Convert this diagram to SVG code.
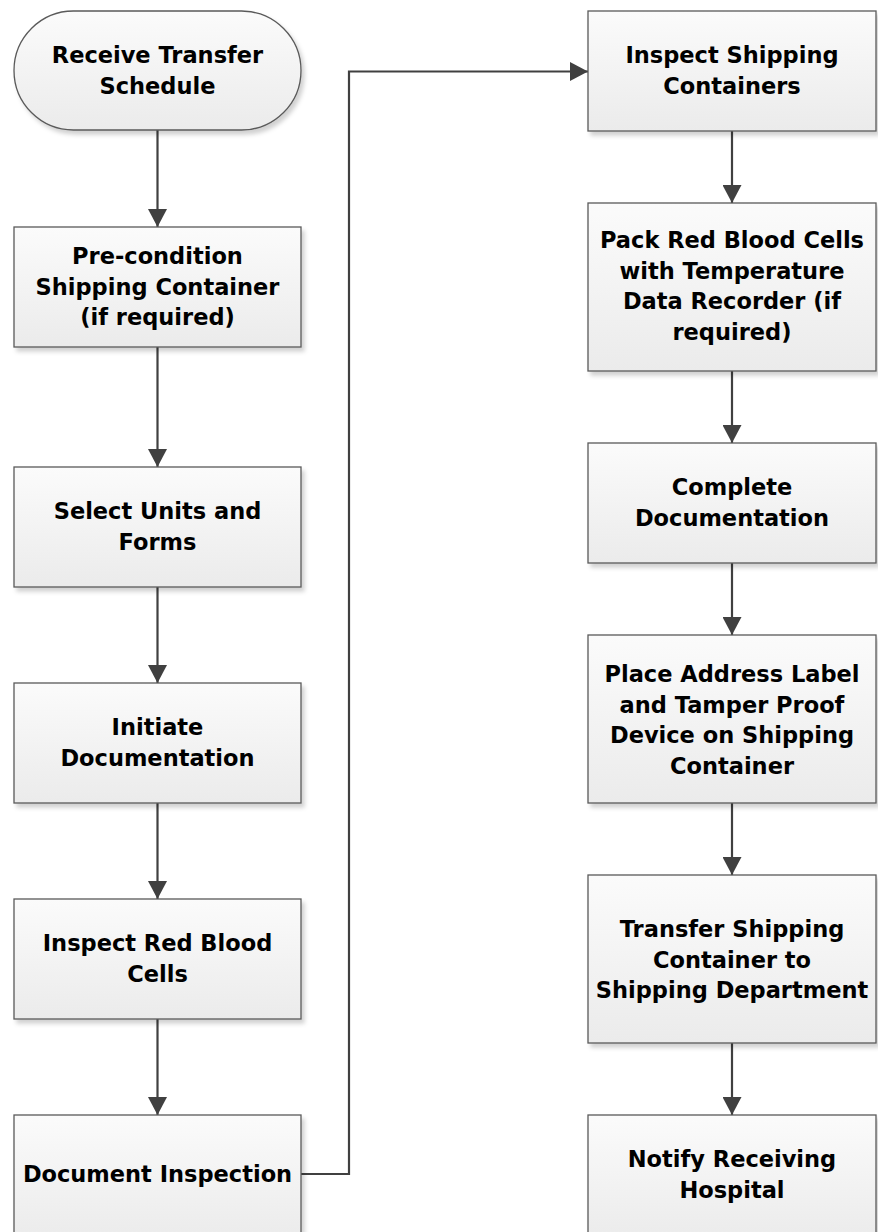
<svg xmlns="http://www.w3.org/2000/svg" width="878" height="1232" viewBox="0 0 878 1232">
<style>
.box{fill:url(#g);stroke:#5a5a5a;stroke-width:1.3;filter:url(#sh)}
.t{font-family:"DejaVu Sans",Verdana,sans-serif;font-weight:bold;font-size:22.5px;fill:#000;text-anchor:middle}
.c{fill:none;stroke:#404040;stroke-width:2.2;marker-end:url(#ah)}
</style>
<defs>
<linearGradient id="g" x1="0" y1="0" x2="0" y2="1">
<stop offset="0" stop-color="#fbfbfb"/>
<stop offset="1" stop-color="#ebebeb"/>
</linearGradient>
<filter id="sh" x="-5%" y="-5%" width="115%" height="120%">
<feDropShadow dx="3" dy="4" stdDeviation="2" flood-color="#000" flood-opacity="0.18"/>
</filter>
<marker id="ah" markerUnits="userSpaceOnUse" viewBox="0 0 18 19" refX="18" refY="9.5" markerWidth="18" markerHeight="19" orient="auto">
<path d="M0,0 L18,9.5 L0,19 z" fill="#404040"/>
</marker>
</defs>
<g id="connectors">
<line class="c" x1="157.5" y1="130" x2="157.5" y2="227"/>
<line class="c" x1="157.5" y1="347" x2="157.5" y2="467"/>
<line class="c" x1="157.5" y1="587" x2="157.5" y2="683"/>
<line class="c" x1="157.5" y1="803" x2="157.5" y2="899"/>
<line class="c" x1="157.5" y1="1019" x2="157.5" y2="1115"/>
<polyline class="c" points="301,1174 349,1174 349,71.5 588,71.5"/>
<line class="c" x1="732" y1="131" x2="732" y2="203"/>
<line class="c" x1="732" y1="371" x2="732" y2="443"/>
<line class="c" x1="732" y1="563" x2="732" y2="635"/>
<line class="c" x1="732" y1="803" x2="732" y2="875"/>
<line class="c" x1="732" y1="1043" x2="732" y2="1115"/>
</g>
<g id="n1"><rect class="box" x="14" y="11" width="287" height="119" rx="59.5"/>
<text class="t" x="157.5" y="63">Receive Transfer</text><text class="t" x="157.5" y="93.5">Schedule</text></g>
<g id="n2"><rect class="box" x="14" y="227" width="287" height="120"/>
<text class="t" x="157.5" y="264">Pre-condition</text><text class="t" x="157.5" y="294.5">Shipping Container</text><text class="t" x="157.5" y="325">(if required)</text></g>
<g id="n3"><rect class="box" x="14" y="467" width="287" height="120"/>
<text class="t" x="157.5" y="519">Select Units and</text><text class="t" x="157.5" y="549.5">Forms</text></g>
<g id="n4"><rect class="box" x="14" y="683" width="287" height="120"/>
<text class="t" x="157.5" y="735">Initiate</text><text class="t" x="157.5" y="765.5">Documentation</text></g>
<g id="n5"><rect class="box" x="14" y="899" width="287" height="120"/>
<text class="t" x="157.5" y="951">Inspect Red Blood</text><text class="t" x="157.5" y="981.5">Cells</text></g>
<g id="n6"><rect class="box" x="14" y="1115" width="287" height="125"/>
<text class="t" x="157.5" y="1182">Document Inspection</text></g>
<g id="n7"><rect class="box" x="588" y="11" width="288" height="120"/>
<text class="t" x="732" y="63">Inspect Shipping</text><text class="t" x="732" y="93.5">Containers</text></g>
<g id="n8"><rect class="box" x="588" y="203" width="288" height="168"/>
<text class="t" x="732" y="248">Pack Red Blood Cells</text><text class="t" x="732" y="278.5">with Temperature</text><text class="t" x="732" y="309">Data Recorder (if</text><text class="t" x="732" y="339.5">required)</text></g>
<g id="n9"><rect class="box" x="588" y="443" width="288" height="120"/>
<text class="t" x="732" y="495">Complete</text><text class="t" x="732" y="525.5">Documentation</text></g>
<g id="n10"><rect class="box" x="588" y="635" width="288" height="168"/>
<text class="t" x="732" y="682">Place Address Label</text><text class="t" x="732" y="712.5">and Tamper Proof</text><text class="t" x="732" y="743">Device on Shipping</text><text class="t" x="732" y="773.5">Container</text></g>
<g id="n11"><rect class="box" x="588" y="875" width="288" height="168"/>
<text class="t" x="732" y="937">Transfer Shipping</text><text class="t" x="732" y="967.5">Container to</text><text class="t" x="732" y="998">Shipping Department</text></g>
<g id="n12"><rect class="box" x="588" y="1115" width="288" height="125"/>
<text class="t" x="732" y="1167">Notify Receiving</text><text class="t" x="732" y="1197.5">Hospital</text></g>
</svg>
